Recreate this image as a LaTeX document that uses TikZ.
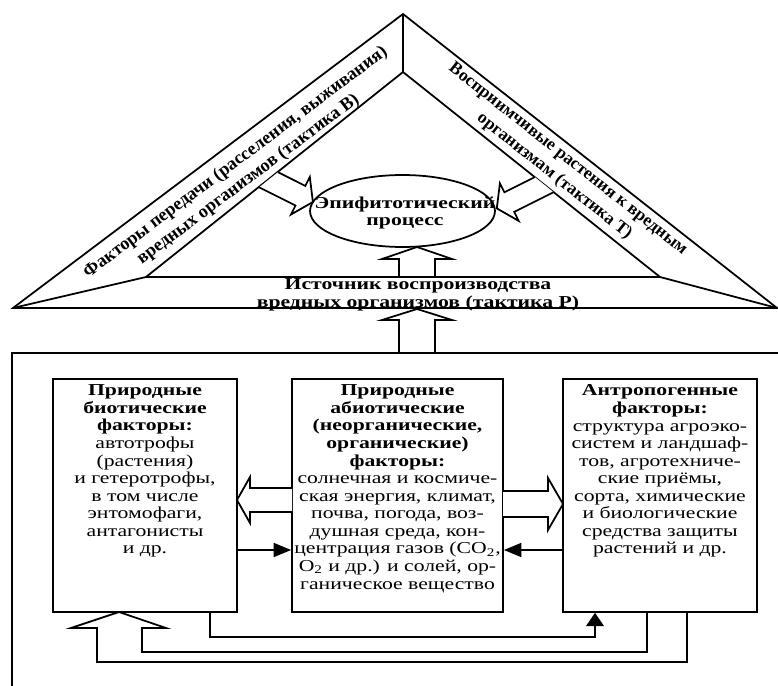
\documentclass[tikz,border=0pt]{standalone}
\usepackage{fontspec}
\setmainfont{Liberation Serif}[FakeStretch=1.3]
\newfontfamily\bandfont{Liberation Serif}
\usetikzlibrary{shapes.geometric,arrows.meta}
\tikzset{
  ln/.style={line width=1pt, line join=miter},
  boxnode/.style={draw, line width=1pt, inner sep=0pt},
  boxtext/.style={anchor=north, align=center, inner sep=0pt, font=\fontsize{9.5}{10}\selectfont},
  bandtext/.style={align=center, inner sep=0pt},
  solidtip/.style={-{Triangle[length=10pt,width=8pt]}},
}
\begin{document}
\begin{tikzpicture}[x=0.02cm,y=-0.02cm]
\useasboundingbox (0,0) rectangle (778,686);
% triangle
\draw[ln] (13,308) -- (403,14) -- (777,308) -- cycle;
\draw[ln] (13,308) -- (146,277) -- (403,72) -- (660,277) -- (777,308);
\draw[ln] (403,14) -- (403,72);
\draw[ln] (146,277) -- (660,277);
% band texts
\node[bandtext, rotate=36.8, font=\bandfont\bfseries\fontsize{10.4}{12}\selectfont] (bandL) at (242,171) {Факторы передачи (расселения, выживания)\\вредных организмов (тактика В)};
\node[bandtext, rotate=-38.3, font=\bandfont\bfseries\fontsize{10}{12.3}\selectfont] (bandR) at (561,168) {Восприимчивые растения к вредным\\организмам (тактика Т)};
\node[align=center, inner sep=0pt, font=\bfseries\fontsize{9.5}{10}\selectfont] (bandB) at (418,295) {Источник воспроизводства\\вредных организмов (тактика Р)};
% ellipse
\node[ellipse, draw, line width=1pt, minimum width=3.7cm, minimum height=1.44cm, inner sep=0pt] (ep) at (402.5,211) {};
\node[align=center, inner sep=0pt, font=\bfseries\fontsize{9.5}{10}\selectfont] (ept) at (405,213) {Эпифитотический\\процесс};
% hollow arrows from bands
\draw[ln, fill=white] (278.0,172.2) -- (305.3,185.9) -- (309.8,176.9) -- (312.9,202.0) -- (291.0,214.5) -- (295.5,205.5) -- (259.1,187.3);
\draw[ln, fill=white] (534.8,177.1) -- (504.4,192.3) -- (499.9,183.3) -- (496.8,208.4) -- (518.7,220.9) -- (514.2,211.9) -- (553.6,192.2);
% upward hollow arrows
\draw[ln] (399,277) -- (399,259) -- (382,259) -- (417,247) -- (452,259) -- (435,259) -- (435,277);
\draw[ln] (399,353) -- (399,320) -- (382,320) -- (417,309) -- (452,320) -- (435,320) -- (435,353);
% outer frame
\draw[ln] (778,353) -- (12,353) -- (12,686);
% boxes
\node[boxnode, minimum width=3.68cm, minimum height=4.66cm] (lb) at (145,495.5) {};
\node[boxnode, minimum width=4.22cm, minimum height=4.66cm] (mb) at (397.5,495.5) {};
\node[boxnode, minimum width=3.88cm, minimum height=4.66cm] (rb) at (660,495.5) {};
\node[boxtext] (lbt) at (145,384.5) {\textbf{Природные}\\\textbf{биотические}\\\textbf{факторы:}\\автотрофы\\(растения)\\и гетеротрофы,\\в том числе\\энтомофаги,\\антагонисты\\и др.};
\node[boxtext] (mbt) at (397.5,384.5) {\textbf{Природные}\\\textbf{абиотические}\\\textbf{(неорганические,}\\\textbf{органические)}\\\textbf{факторы:}\\солнечная и космиче-\\ская энергия, климат,\\почва, погода, воз-\\душная среда, кон-\\центрация газов (CO\textsubscript{2},\\O\textsubscript{2} и др.) и солей, ор-\\ганическое вещество};
\node[boxtext] (rbt) at (660,384.5) {\textbf{Антропогенные}\\\textbf{факторы:}\\структура агроэко-\\систем и ландшаф-\\тов, агротехниче-\\ские приёмы,\\сорта, химические\\и биологические\\средства защиты\\растений и др.};
% hollow arrows between boxes
\draw[ln, fill=white] (292,488) -- (250,488) -- (250,477) -- (237,500) -- (250,523) -- (250,512) -- (292,512);
\draw[ln, fill=white] (503,491) -- (548,491) -- (548,478) -- (563,504) -- (548,530) -- (548,517) -- (503,517);
% solid arrows between boxes
\coordinate (s1) at (237,550);
\coordinate (s2) at (563,550);
\draw[ln, solidtip] (s1) -- (s1 -| mb.west);
\draw[ln, solidtip] (s2) -- (s2 -| mb.east);
% bottom connectors
\coordinate (b1) at (210,637);
\coordinate (b2) at (595,637);
\draw[ln, -{Triangle[length=7.5pt,width=10pt]}] (b1 |- lb.south) -- (b1) -- (b2) -- (b2 |- rb.south);
\coordinate (d1) at (647,652);
\coordinate (d2) at (687,662);
\draw[ln] (d1 |- rb.south) -- (d1) -- (142,652) -- (142,628) -- (166,628) -- (119,612) -- (71,628) -- (97,628) -- (97,662) -- (d2) -- (d2 |- rb.south);
\end{tikzpicture}
\end{document}
